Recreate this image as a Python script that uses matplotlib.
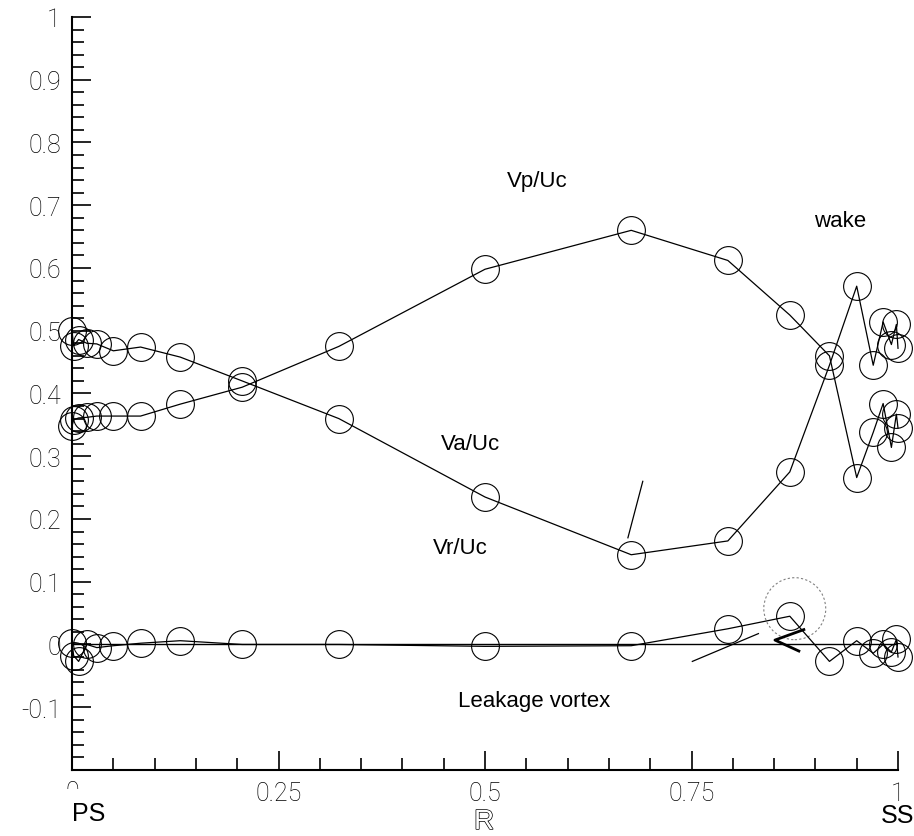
import numpy as np
import matplotlib
matplotlib.use("Agg")
import matplotlib.pyplot as plt
import matplotlib.patheffects as pe
from matplotlib.patches import Ellipse
from matplotlib.transforms import Bbox, TransformedBbox

# blade-to-blade positions (PS -> SS), shared by all three profiles
r_pos = [0.0, 0.002, 0.008, 0.018, 0.03, 0.05, 0.083, 0.131, 0.206, 0.323,
         0.5, 0.677, 0.794, 0.869, 0.917, 0.95, 0.97, 0.982, 0.992, 0.998, 1.0]

va_uc = [0.499, 0.476, 0.486, 0.480, 0.479, 0.468, 0.474, 0.458, 0.420, 0.360,
         0.235, 0.143, 0.165, 0.275, 0.445, 0.571, 0.445, 0.514, 0.478, 0.510, 0.472]

vp_uc = [0.348, 0.358, 0.361, 0.362, 0.364, 0.364, 0.364, 0.383, 0.410, 0.475,
         0.598, 0.660, 0.612, 0.525, 0.460, 0.266, 0.338, 0.384, 0.314, 0.367, 0.345]

vr_uc = [0.003, -0.018, -0.027, 0.000, -0.005, -0.002, 0.002, 0.006, 0.000, 0.000,
         -0.003, -0.002, 0.025, 0.045, -0.027, 0.006, -0.014, 0.000, -0.012, 0.008, -0.020]

y_ticks = [-0.1, 0, 0.1, 0.2, 0.3, 0.4, 0.5, 0.6, 0.7, 0.8, 0.9, 1.0]
y_ticklabels = ['-0.1', '0', '0.1', '0.2', '0.3', '0.4', '0.5', '0.6', '0.7', '0.8', '0.9', '1']
x_ticks = [0, 0.25, 0.5, 0.75, 1.0]
x_ticklabels = ['', '0.25', '0.5', '0.75', '1']

# annotations: (text, x, y)
curve_notes = [('Vp/Uc', 0.563, 0.74), ('wake', 0.93, 0.675), ('Va/Uc', 0.482, 0.32),
               ('Vr/Uc', 0.47, 0.155), ('Leakage vortex', 0.56, -0.09)]

tick_font = dict(family=['Roboto', 'DejaVu Sans'], weight='light', size=18)
note_font = dict(family=['Liberation Sans', 'DejaVu Sans'], size=16)

fig = plt.figure(figsize=(9.14, 8.37), dpi=100)
ax = fig.add_axes([0.0788, 0.0789, 0.9037, 0.8996])

for vals in (va_uc, vp_uc, vr_uc):
    ax.plot(r_pos, vals, color='black', lw=0.9, marker='o', ms=20,
            mfc='none', mec='black', mew=0.8, clip_on=False)

# zero reference line
ax.plot([0, 1], [0, 0], color='black', lw=1.0)

# vortex marker: dotted ring, arrow head and guide strokes
ax.add_patch(Ellipse((0.875, 0.057), 0.075, 0.0988, fill=False,
                     ls=(0, (2, 2)), ec='gray', lw=0.8))
ax.plot([0.886, 0.851, 0.880], [0.0237, 0.007, -0.0105], color='black', lw=2.0)
ax.plot([0.751, 0.831], [-0.027, 0.0173], color='black', lw=0.9)
ax.plot([0.673, 0.691], [0.170, 0.260], color='black', lw=0.9)

for txt, x, y in curve_notes:
    ax.text(x, y, txt, ha='center', va='center', **note_font)

ax.set_xlim(0, 1)
ax.set_ylim(-0.2, 1.0)
ax.spines['top'].set_visible(False)
ax.spines['right'].set_visible(False)
ax.spines['left'].set_linewidth(1.5)
ax.spines['bottom'].set_linewidth(1.5)

ax.set_yticks(y_ticks)
ax.set_yticklabels(y_ticklabels)
ax.set_yticks(np.arange(-0.2, 1.001, 0.02), minor=True)
ax.set_xticks(x_ticks)
ax.set_xticklabels(x_ticklabels)
ax.set_xticks(np.arange(0, 1.001, 0.05), minor=True)
ax.tick_params(which='major', direction='in', length=13.5, width=1.2, pad=8)
ax.tick_params(which='minor', direction='in', length=8.5, width=1.2)
for lab in ax.get_xticklabels() + ax.get_yticklabels():
    lab.set_fontfamily(tick_font['family'])
    lab.set_fontweight(tick_font['weight'])
    lab.set_fontsize(tick_font['size'])

# the "0" under the origin is cut off by the label row below it
zero = fig.text(72 / 914, 1 - 781 / 837, '0', ha='center', va='top', **tick_font)
zero.set_clip_box(TransformedBbox(Bbox([[0, 47 / 837], [1, 1]]), fig.transFigure))

fig.text(72 / 914, 1 - 814 / 837, 'PS', ha='left', va='center',
         family=note_font['family'], size=18)
fig.text(898 / 914, 1 - 816 / 837, 'SS', ha='center', va='center',
         family=note_font['family'], size=18)
# hollow axis letter
fig.text(484 / 914, 1 - 823 / 837, 'R', ha='center', va='center', color='white',
         family=note_font['family'], size=20,
         path_effects=[pe.Stroke(linewidth=1.0, foreground='black'), pe.Normal()])

fig.savefig('out.png', dpi=100)
